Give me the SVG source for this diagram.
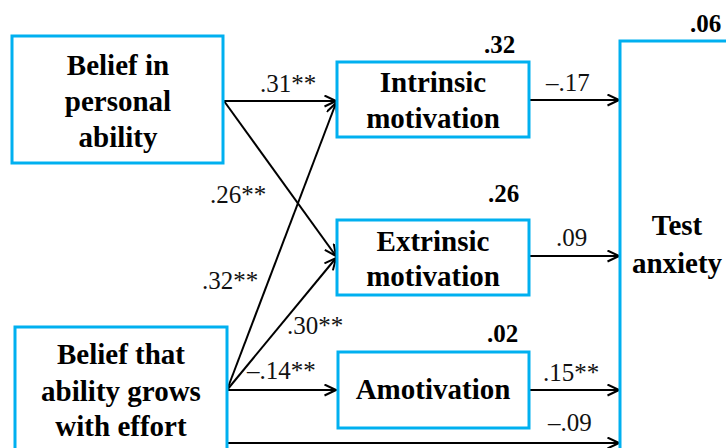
<svg xmlns="http://www.w3.org/2000/svg" width="726" height="448" viewBox="0 0 726 448">
<style>
.box{fill:#fff;stroke:#00b0f0;stroke-width:3}
.nt{font-family:'Liberation Serif',Tinos,'Times New Roman','DejaVu Serif',serif;font-weight:bold;font-size:29px;fill:#000;text-anchor:middle}
.r2{font-family:'Liberation Serif',Tinos,'Times New Roman','DejaVu Serif',serif;font-weight:bold;font-size:25px;fill:#000}
.cf{font-family:'Liberation Serif',Tinos,'Times New Roman','DejaVu Serif',serif;font-size:25px;fill:#111}
.ln{stroke:#000;stroke-width:2;fill:none;marker-end:url(#ah)}
</style>
<defs>
<marker id="ah" markerUnits="userSpaceOnUse" markerWidth="14" markerHeight="14" refX="12" refY="6" orient="auto">
<path d="M0.5,0.5 L12,6 L0.5,11.5" fill="none" stroke="#000" stroke-width="2"/>
</marker>
</defs>
<rect width="726" height="448" fill="#fff"/>
<g id="connectors">
<line class="ln" x1="224" y1="101" x2="336" y2="101"/>
<line class="ln" x1="224" y1="101" x2="336" y2="256"/>
<line class="ln" x1="227" y1="390" x2="336" y2="103"/>
<line class="ln" x1="227" y1="390" x2="336" y2="258"/>
<line class="ln" x1="227" y1="390" x2="336" y2="390"/>
<line class="ln" x1="227" y1="443" x2="619" y2="443"/>
<line class="ln" x1="530" y1="100" x2="619" y2="100"/>
<line class="ln" x1="530" y1="256" x2="619" y2="256"/>
<line class="ln" x1="530" y1="390" x2="619" y2="390"/>
<text class="cf" x="260" y="92">.31**</text>
<text class="cf" x="210" y="203">.26**</text>
<text class="cf" x="202" y="289">.32**</text>
<text class="cf" x="287" y="334">.30**</text>
<text class="cf" x="247" y="379">–.14**</text>
<text class="cf" x="546" y="91">–.17</text>
<text class="cf" x="556" y="246">.09</text>
<text class="cf" x="543" y="381">.15**</text>
<text class="cf" x="548" y="431">–.09</text>
</g>
<g id="belief-ability">
<rect class="box" x="12" y="36" width="211" height="127"/>
<text class="nt" x="118" y="75">Belief in</text>
<text class="nt" x="118" y="111">personal</text>
<text class="nt" x="118" y="147">ability</text>
</g>
<g id="belief-effort">
<rect class="box" x="15" y="327" width="212" height="150"/>
<text class="nt" x="121" y="364">Belief that</text>
<text class="nt" x="121" y="401">ability grows</text>
<text class="nt" x="121" y="436">with effort</text>
</g>
<g id="intrinsic">
<rect class="box" x="337" y="62" width="192" height="75"/>
<text class="nt" x="433" y="92">Intrinsic</text>
<text class="nt" x="433" y="128">motivation</text>
<text class="r2" x="484" y="53">.32</text>
</g>
<g id="extrinsic">
<rect class="box" x="337" y="220" width="192" height="75"/>
<text class="nt" x="433" y="251">Extrinsic</text>
<text class="nt" x="433" y="286">motivation</text>
<text class="r2" x="488" y="202">.26</text>
</g>
<g id="amotivation">
<rect class="box" x="338" y="352" width="191" height="76"/>
<text class="nt" x="433" y="399">Amotivation</text>
<text class="r2" x="487" y="342">.02</text>
</g>
<g id="test-anxiety">
<rect class="box" x="620" y="41" width="130" height="430"/>
<text class="nt" x="677" y="235">Test</text>
<text class="nt" x="677" y="273">anxiety</text>
<text class="r2" x="690" y="32">.06</text>
</g>
</svg>
